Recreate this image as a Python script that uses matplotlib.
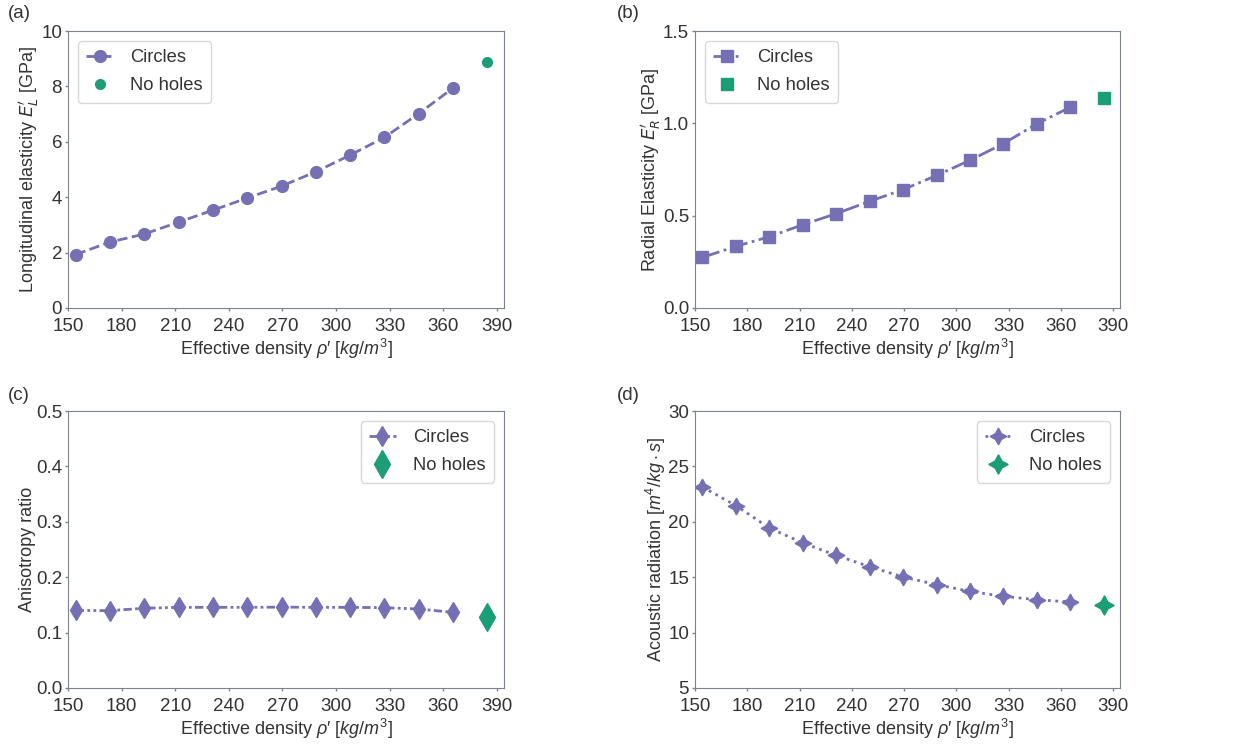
import matplotlib
matplotlib.use("Agg")
import matplotlib.pyplot as plt

plt.rcParams['font.family'] = ['Liberation Sans', 'DejaVu Sans']
plt.rcParams['mathtext.fontset'] = 'custom'
plt.rcParams['mathtext.rm'] = 'Liberation Sans'
plt.rcParams['mathtext.it'] = 'Liberation Sans:italic'
plt.rcParams['mathtext.bf'] = 'Liberation Sans:bold'
plt.rcParams['text.color'] = '#333333'
plt.rcParams['axes.labelcolor'] = '#333333'
plt.rcParams['xtick.color'] = '#333333'
plt.rcParams['ytick.color'] = '#333333'
plt.rcParams['axes.edgecolor'] = '#7d8290'

purple = '#7570b3'
green = '#1b9e77'

# effective density of the perforated plates, and the solid one
density = [154.3, 173.5, 192.7, 211.9, 231.1, 250.3, 269.5, 288.7, 307.9, 327.1, 346.3, 365.5]
density_solid = 384.7

long_el = [1.93, 2.38, 2.67, 3.10, 3.53, 3.97, 4.40, 4.92, 5.52, 6.16, 7.02, 7.94]
long_el_solid = 8.89

rad_el = [0.274, 0.334, 0.386, 0.451, 0.511, 0.578, 0.641, 0.718, 0.800, 0.890, 0.998, 1.087]
rad_el_solid = 1.139

aniso = [0.140, 0.1396, 0.144, 0.1456, 0.1456, 0.1456, 0.146, 0.1456, 0.1456, 0.145, 0.1426, 0.1366]
aniso_solid = 0.128

acoustic = [23.14, 21.46, 19.44, 18.09, 16.97, 15.95, 15.02, 14.33, 13.72, 13.27, 12.97, 12.76]
acoustic_solid = 12.49

xticks = [150, 180, 210, 240, 270, 300, 330, 360, 390]

fig = plt.figure(figsize=(12.56, 7.45), dpi=100)
W, H = 1256, 745

def make_ax(l, r, t, b):
    return fig.add_axes([l / W, (H - b) / H, (r - l) / W, (b - t) / H])

ax1 = make_ax(68, 504, 31, 308)
ax2 = make_ax(695, 1120, 31, 308)
ax3 = make_ax(68, 504, 411, 688)
ax4 = make_ax(695, 1120, 411, 688)

star4 = (4, 1, 0)

# (a)
ax1.plot(density, long_el, ls='--', marker='o', ms=8.5, color=purple, lw=2, label='Circles')
ax1.plot([density_solid], [long_el_solid], ls='none', marker='o', ms=7, color=green, label='No holes')
ax1.set_ylim(0, 10)
ax1.set_ylabel(r"Longitudinal elasticity $E_L'$ [GPa]", math_fontfamily='dejavusans')
ax1.legend(loc='upper left')

# (b)
ax2.plot(density, rad_el, ls='-.', marker='s', ms=8.5, color=purple, lw=2, label='Circles')
ax2.plot([density_solid], [rad_el_solid], ls='none', marker='s', ms=8.5, color=green, label='No holes')
ax2.set_ylim(0, 1.5)
ax2.set_yticks([0.0, 0.5, 1.0, 1.5])
ax2.set_ylabel(r"Radial Elasticity $E_R'$ [GPa]", math_fontfamily='dejavusans')
ax2.legend(loc='upper left')

# (c)
ax3.plot(density, aniso, ls=(0, (3, 1.2, 1, 1.2, 1, 1.2)), marker='d', ms=10, color=purple, lw=2, label='Circles')
ax3.plot([density_solid], [aniso_solid], ls='none', marker='d', ms=14, color=green, label='No holes')
ax3.set_ylim(0, 0.5)
ax3.set_ylabel("Anisotropy ratio")
ax3.legend(loc='upper right')

# (d)
ax4.plot(density, acoustic, ls=':', marker=star4, ms=12, color=purple, lw=2, label='Circles')
ax4.plot([density_solid], [acoustic_solid], ls='none', marker=star4, ms=14, color=green, label='No holes')
ax4.set_ylim(5, 30)
ax4.set_ylabel(r"Acoustic radiation $[m^4/kg \cdot s]$")
ax4.legend(loc='upper right')

for ax in [ax1, ax2, ax3, ax4]:
    ax.set_xlim(150, 394)
    ax.set_xticks(xticks)
    ax.set_xlabel("Effective density $\\rho$\u2032 $[kg/m^3]$", fontsize=13, labelpad=1.5)
    ax.yaxis.label.set_size(13)
    ax.yaxis.labelpad = 0
    ax.tick_params(labelsize=13.5, length=2.5, width=1, color='#7d8290')
    ax.tick_params(axis='x', pad=4.8)
    ax.tick_params(axis='y', pad=1.8)
    loc = ax.get_legend()._loc
    leg = ax.legend(loc=loc, fontsize=13.2, labelspacing=0.6, borderpad=0.45,
                    handlelength=1.45, handletextpad=0.95, borderaxespad=0.55,
                    edgecolor='#d8d8d8', framealpha=1)
    leg.get_frame().set_linewidth(1)

fig.text(8 / W, 1 - 14 / H, "(a)", fontsize=13.5, va='center')
fig.text(617 / W, 1 - 14 / H, "(b)", fontsize=13.5, va='center')
fig.text(8 / W, 1 - 395 / H, "(c)", fontsize=13.5, va='center')
fig.text(617 / W, 1 - 395 / H, "(d)", fontsize=13.5, va='center')

fig.savefig("out.png", dpi=100)
